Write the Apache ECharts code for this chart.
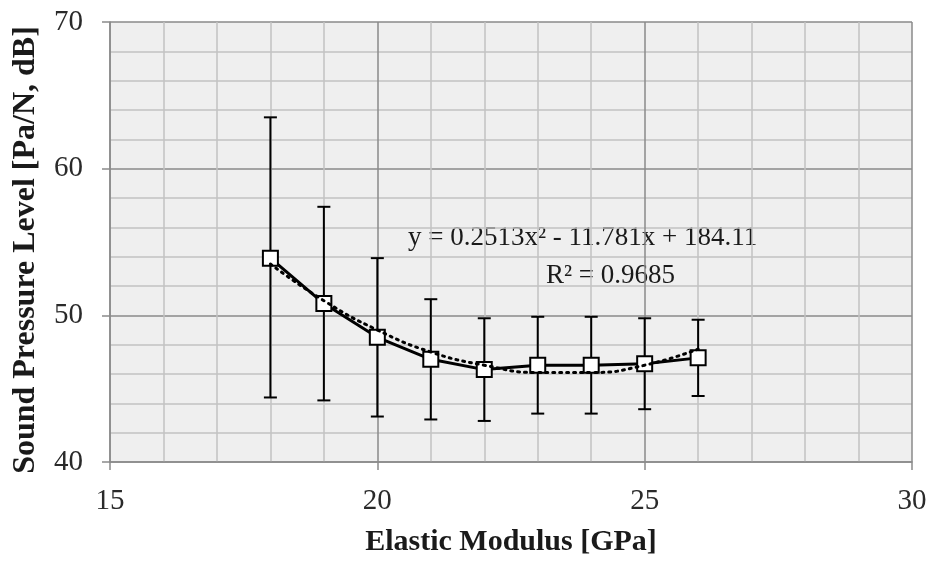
<!DOCTYPE html>
<html>
<head>
<meta charset="utf-8">
<title>Sound Pressure Level vs Elastic Modulus</title>
<script src="https://cdn.jsdelivr.net/npm/echarts@6/dist/echarts.min.js"></script>
<style>
  html, body { margin: 0; padding: 0; background: #fff; }
  #chart { width: 930px; height: 562px; }
</style>
</head>
<body>
<div id="chart"></div>
<script>
// 数据 — 从图上读取
var modulus = [18, 19, 20, 21, 22, 23, 24, 25, 26];
var splMean = [53.9, 50.8, 48.5, 47.0, 46.3, 46.6, 46.6, 46.7, 47.1];
var splHigh = [63.5, 57.4, 53.9, 51.1, 49.8, 49.9, 49.9, 49.8, 49.7];
var splLow = [44.4, 44.2, 43.1, 42.9, 42.8, 43.3, 43.3, 43.6, 44.5];
// 二次趋势线 (点线) 在各 x 处的读数
var trendValues = [53.5, 51.0, 49.0, 47.5, 46.6, 46.1, 46.1, 46.6, 47.7];
var xTicks = [15, 20, 25, 30];
var yTicks = [40, 50, 60, 70];
var eqLine1 = 'y = 0.2513x\u00B2 - 11.781x + 184.11';
var eqLine2 = 'R\u00B2 = 0.9685';

var serif = '"Liberation Serif", "Times New Roman", serif';

function pairs(xs, ys) {
  var out = [];
  for (var i = 0; i < xs.length; i++) out.push([xs[i], ys[i]]);
  return out;
}

var errData = [];
for (var i = 0; i < modulus.length; i++) {
  errData.push([modulus[i], splLow[i], splHigh[i]]);
}

var chart = echarts.init(document.getElementById('chart'));

var option = {
  animation: false,
  backgroundColor: '#ffffff',
  grid: {
    left: 110, right: 18, top: 22, bottom: 99,
    show: true, backgroundColor: '#efefef', borderWidth: 0
  },
  xAxis: {
    type: 'value',
    min: xTicks[0], max: xTicks[xTicks.length - 1], interval: 5,
    name: 'Elastic Modulus [GPa]',
    nameLocation: 'middle', nameGap: 65,
    nameTextStyle: { fontFamily: serif, fontSize: 30, fontWeight: 'bold', color: '#1a1a1a' },
    axisLine: { show: true, lineStyle: { color: '#8a8a8a', width: 1.5 } },
    axisTick: { show: true, length: 8, lineStyle: { color: '#8a8a8a', width: 1.5 } },
    axisLabel: { fontFamily: serif, fontSize: 29, color: '#2a2a2a', margin: 25 },
    splitLine: { show: true, lineStyle: { color: '#8a8a8a', width: 1.5 } },
    minorTick: { show: false, splitNumber: 5 },
    minorSplitLine: { show: true, lineStyle: { color: '#c2c2c2', width: 1.5 } }
  },
  yAxis: {
    type: 'value',
    min: yTicks[0], max: yTicks[yTicks.length - 1], interval: 10,
    name: 'Sound Pressure Level [Pa/N, dB]',
    nameLocation: 'middle', nameGap: 68,
    nameTextStyle: {
      fontFamily: serif, fontSize: 32, fontWeight: 'bold', color: '#1a1a1a',
      padding: [0, 16, 0, 0]
    },
    axisLine: { show: true, lineStyle: { color: '#8a8a8a', width: 1.5 } },
    axisTick: { show: true, length: 8, lineStyle: { color: '#8a8a8a', width: 1.5 } },
    axisLabel: { fontFamily: serif, fontSize: 29, color: '#2a2a2a', margin: 27 },
    splitLine: { show: true, lineStyle: { color: '#8a8a8a', width: 1.5 } },
    minorTick: { show: false, splitNumber: 5 },
    minorSplitLine: { show: true, lineStyle: { color: '#c2c2c2', width: 1.5 } }
  },
  series: [
    {
      // 误差棒
      type: 'custom',
      data: errData,
      z: 2,
      renderItem: function(params, api) {
        var top = api.coord([api.value(0), api.value(2)]);
        var bot = api.coord([api.value(0), api.value(1)]);
        var cap = 6.5;
        var style = { stroke: '#000', lineWidth: 2 };
        return {
          type: 'group',
          children: [
            { type: 'line', shape: { x1: top[0], y1: top[1], x2: bot[0], y2: bot[1] }, style: style },
            { type: 'line', shape: { x1: top[0] - cap, y1: top[1], x2: top[0] + cap, y2: top[1] }, style: style },
            { type: 'line', shape: { x1: bot[0] - cap, y1: bot[1], x2: bot[0] + cap, y2: bot[1] }, style: style }
          ]
        };
      }
    },
    {
      type: 'line',
      data: pairs(modulus, splMean),
      z: 3,
      symbol: 'rect',
      symbolSize: 15,
      lineStyle: { color: '#000', width: 3 },
      itemStyle: { color: '#fff', borderColor: '#000', borderWidth: 2 }
    },
    {
      // 趋势线
      type: 'line',
      data: pairs(modulus, trendValues),
      z: 4,
      smooth: true,
      showSymbol: false,
      symbol: 'none',
      lineStyle: { color: '#000', width: 3, type: [2, 5], cap: 'round' }
    }
  ],
  graphic: [
    {
      type: 'text', left: 408, top: 224,
      style: { text: eqLine1, font: '27px ' + serif, fill: '#1a1a1a' }
    },
    {
      type: 'text', left: 546, top: 262,
      style: { text: eqLine2, font: '27px ' + serif, fill: '#1a1a1a' }
    }
  ]
};

chart.setOption(option);
</script>
</body>
</html>
